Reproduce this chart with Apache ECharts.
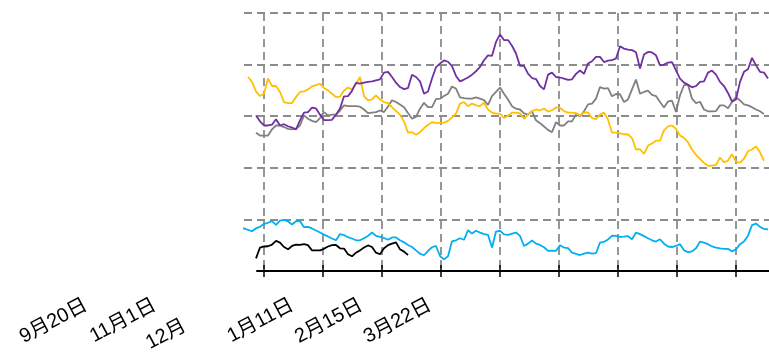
<!DOCTYPE html>
<html>
<head>
<meta charset="utf-8">
<script src="https://cdn.jsdelivr.net/npm/echarts@6/dist/echarts.min.js"></script>
<style>
html,body{margin:0;padding:0;background:#fff;}
#chart{width:769px;height:355px;}
</style>
</head>
<body>
<div id="chart"></div>
<script>
// Date labels of the lower axis
const categories = ['9月20日', '11月1日', '12月', '1月11日', '2月15日', '3月22日'];
// Tick values of the plotting axis (one step = one observation)
const xTicks = [0, 14.75, 29.5, 44.25, 59, 73.75, 88.5, 103.25, 118];

// Series values (first observation index given by *Start)
const purpleStart = -2;
const purple = [60.3,58.0,56.4,56.4,56.7,58.8,56.4,56.9,56.1,55.6,54.9,58.4,61.4,61.6,63.3,63.0,60.6,58.5,58.5,58.6,
  60.6,63.0,67.7,67.8,69.8,72.9,72.6,73.0,73.3,73.5,73.9,74.3,76.9,77.2,75.2,73.0,71.3,70.5,70.9,76.1,
  75.2,73.5,68.7,69.6,74.6,79.0,80.4,81.6,81.1,79.4,75.6,73.5,74.2,75.0,76.1,77.4,79.1,81.7,83.6,83.4,
  88.8,91.7,89.5,89.5,87.3,84.3,79.5,79.5,76.5,74.8,74.4,71.7,70.4,76.1,76.9,75.2,75.0,74.6,74.1,74.3,
  76.4,77.7,76.4,80.4,81.3,83.0,83.0,81.0,81.5,81.7,82.4,87.1,86.2,85.8,85.6,84.8,78.5,83.9,84.9,84.7,
  83.6,79.7,80.0,80.8,81.0,77.8,74.6,73.0,72.2,71.2,71.7,73.3,73.5,76.9,77.7,76.1,73.3,71.7,69.0,65.7,
  66.5,73.3,77.2,78.2,82.6,79.7,77.2,76.9,74.6];

const grayStart = -2;
const gray = [53.6,52.5,52.5,52.5,54.9,56.4,56.4,55.8,55.1,54.9,55.1,56.4,60.3,59.0,58.2,57.7,59.3,61.6,60.3,60.6,
  60.6,62.2,64.2,63.9,63.9,63.9,63.7,62.6,61.2,61.4,61.6,62.2,61.6,63.8,66.2,65.5,64.5,63.5,61.2,59.0,
  59.7,62.9,65.2,63.5,63.5,66.6,66.8,67.8,68.7,71.5,70.7,67.3,67.0,66.8,66.8,67.3,66.8,66.2,64.4,67.8,
  69.4,71.1,68.7,66.5,63.9,62.9,62.6,61.1,60.6,61.9,58.4,57.3,56.0,54.7,53.8,57.7,56.4,56.4,58.0,58.0,
  60.6,60.0,61.9,64.6,64.9,66.8,71.3,70.7,70.9,67.7,68.6,68.5,65.5,66.5,70.4,74.2,68.7,69.4,69.9,68.3,
  67.8,65.5,63.4,65.7,66.0,61.6,68.1,72.0,72.2,66.8,65.1,65.6,62.6,61.9,61.9,62.0,64.2,64.2,63.1,65.5,
  67.4,66.1,64.6,64.2,63.5,62.6,61.9,60.8];

const yellowStart = -4;
const yellow = [75.2,73.3,69.6,67.8,68.7,74.6,71.7,71.7,69.4,65.5,65.1,65.1,67.4,69.4,69.6,70.4,71.6,72.0,72.6,70.9,
  70.0,68.7,67.4,67.6,70.0,71.1,70.4,72.6,75.2,67.8,66.1,66.5,68.1,66.5,65.5,65.1,63.5,62.0,60.6,58.0,
  53.6,53.8,52.8,53.8,55.4,56.7,57.7,57.4,57.4,57.5,58.2,59.5,61.0,64.9,65.5,63.9,64.9,64.2,63.9,65.2,
  62.6,61.4,61.0,61.0,59.3,60.2,61.4,61.4,61.1,59.0,60.6,61.9,62.6,62.2,63.0,61.8,62.3,63.4,63.2,62.0,
  61.4,61.4,61.2,60.3,61.4,61.5,59.3,58.9,60.6,61.4,58.7,53.6,53.6,53.3,53.0,52.9,51.5,47.1,47.2,45.4,
  48.6,49.4,50.5,50.5,54.5,56.1,56.4,55.1,52.5,51.6,49.9,47.1,45.0,43.5,41.9,40.8,40.8,41.1,44.0,42.1,
  42.8,45.3,42.3,42.0,43.5,46.4,47.1,48.3,46.0,42.8];

const blueStart = -6;
const blue = [16.6,16.5,15.9,15.4,16.6,17.1,18.3,18.7,19.3,17.9,19.5,19.8,19.2,18.0,19.3,19.4,17.0,17.1,16.5,15.7,
  14.9,14.1,13.4,12.6,11.9,14.3,13.9,13.1,12.6,11.9,11.9,12.7,13.6,14.9,13.6,13.2,12.8,12.1,13.0,13.0,
  11.9,11.1,10.1,9.3,8.0,6.7,6.1,7.8,9.2,9.7,5.8,4.5,5.7,11.5,11.9,12.7,12.1,15.8,14.5,15.6,
  14.9,14.3,14.0,9.1,15.3,15.6,14.2,14.0,14.5,14.9,13.6,9.7,10.6,11.8,10.6,10.1,9.2,7.8,7.9,7.8,
  10.0,9.1,8.9,7.1,6.6,6.2,6.7,7.1,6.7,6.9,11.0,11.3,12.2,13.7,13.6,13.2,13.3,13.5,12.3,14.9,
  14.3,13.5,12.7,11.9,11.4,12.3,10.6,9.5,9.3,9.7,10.4,8.0,7.3,7.6,8.8,11.4,11.0,10.4,9.5,9.1,
  8.8,8.6,8.6,7.6,8.4,10.4,11.4,13.7,17.8,18.4,17.1,16.3,16.1];

const blackStart = -2;
const black = [4.9,9.1,9.5,9.6,10.2,11.7,11.0,9.3,8.4,9.7,10.2,10.1,10.4,10.0,8.0,8.0,8.0,8.6,9.5,10.0,
  10.1,8.8,8.7,6.5,5.7,7.1,8.0,9.1,9.9,9.3,7.1,6.5,8.8,10.0,10.6,11.1,8.4,7.5,6.2];

function pairs(start, arr) { return arr.map((v, i) => [start + i, v]); }

const chart = echarts.init(document.getElementById('chart'), null, { renderer: 'canvas' });
const dash = { color: '#8c8c8c', width: 1.8, type: [8, 5] };
const fontFamily = '"Liberation Sans", Arial, "Noto Sans CJK SC", sans-serif';

function line(name, start, arr, color) {
  return {
    name, type: 'line', xAxisIndex: 0, yAxisIndex: 0,
    data: pairs(start, arr), showSymbol: false, symbol: 'none',
    clip: false, lineStyle: { color, width: 1.8 }, itemStyle: { color },
    emphasis: { disabled: true }
  };
}

chart.setOption({
  animation: false,
  backgroundColor: '#ffffff',
  grid: [
    { left: 244, right: 0, top: 13, height: 258 },
    { left: 257, right: 0, top: 270, height: 1 },
    { left: 86, right: 339, top: 286, height: 10 }
  ],
  xAxis: [
    {
      gridIndex: 0, type: 'value', min: -5, max: 126.25,
      minInterval: 14.75, maxInterval: 14.75,
      axisLine: { show: false }, axisTick: { show: false }, axisLabel: { show: false },
      splitLine: { show: true, showMinLine: false, showMaxLine: false, lineStyle: dash }
    },
    {
      gridIndex: 1, type: 'value', min: -1.75, max: 126.25, position: 'bottom',
      minInterval: 14.75, maxInterval: 14.75,
      axisLine: { show: true, onZero: false, lineStyle: { color: '#000', width: 2 } },
      axisTick: { show: true, length: 6, customValues: xTicks, lineStyle: { color: '#000', width: 1.5 } },
      axisLabel: { show: false }, splitLine: { show: false }
    },
    {
      gridIndex: 1, type: 'value', min: -1.75, max: 126.25, position: 'bottom',
      minInterval: 14.75, maxInterval: 14.75,
      axisLine: { show: false, onZero: false },
      axisTick: { show: true, inside: true, length: 6, customValues: xTicks, lineStyle: { color: '#000', width: 1.5 } },
      axisLabel: { show: false }, splitLine: { show: false }
    },
    {
      gridIndex: 2, type: 'category', data: categories, boundaryGap: false, position: 'bottom',
      axisLine: { show: false }, axisTick: { show: false }, splitLine: { show: false },
      axisLabel: {
        show: true, interval: 0, rotate: 28, margin: 8, fontSize: 20, color: '#000', fontFamily,
        formatter: (v) => (v === '12月' ? '{p|' + v + '}' : v),
        rich: { p: { fontSize: 20, color: '#000', fontFamily, padding: [0, 44, 0, 0] } }
      }
    }
  ],
  yAxis: [
    {
      gridIndex: 0, type: 'value', min: 0, max: 100, interval: 20,
      axisLine: { show: false }, axisTick: { show: false }, axisLabel: { show: false },
      splitLine: { show: true, showMinLine: false, lineStyle: dash }
    },
    { gridIndex: 1, type: 'value', show: false, min: 0, max: 1 },
    { gridIndex: 2, type: 'value', show: false, min: 0, max: 1 }
  ],
  series: [
    line('gray', grayStart, gray, '#808080'),
    line('yellow', yellowStart, yellow, '#FFC000'),
    line('purple', purpleStart, purple, '#7030A0'),
    line('blue', blueStart, blue, '#00B0F0'),
    line('black', blackStart, black, '#000000')
  ]
});
</script>
</body>
</html>
